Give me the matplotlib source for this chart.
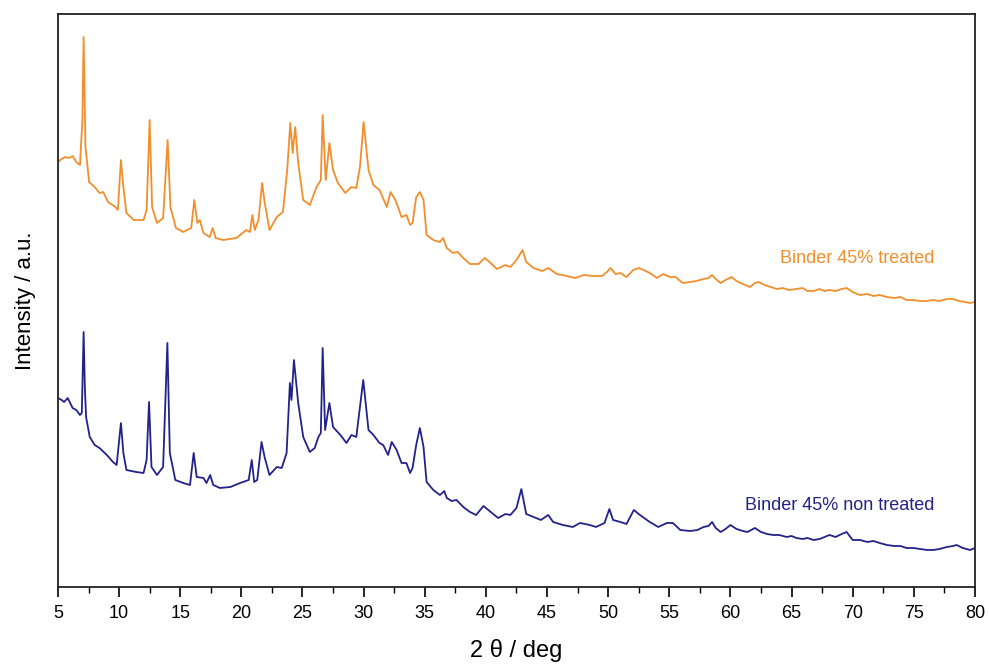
import matplotlib
matplotlib.use('Agg')
import matplotlib.pyplot as plt
from matplotlib.ticker import MultipleLocator

# 2theta positions (deg) and intensities (a.u.)
treated_2theta = [5.0, 5.3, 5.6, 5.9, 6.2, 6.5, 6.8, 7.0, 7.1, 7.25, 7.55, 8.0, 8.4, 8.7, 9.1,
                  9.7, 9.9, 10.15, 10.35, 10.6, 11.2, 12.0, 12.25, 12.5, 12.7, 13.1, 13.6,
                  13.97, 14.2, 14.65, 15.25, 15.9, 16.15, 16.4, 16.6, 16.9, 17.4, 17.65, 17.9,
                  18.5, 19.6, 20.4, 20.7, 20.9, 21.1, 21.4, 21.7, 21.9, 22.3, 22.9, 23.4,
                  23.75, 24.0, 24.2, 24.4, 24.65, 25.06, 25.6, 26.15, 26.5, 26.65, 26.9, 27.2,
                  27.5, 27.9, 28.5, 29.0, 29.4, 29.7, 30.0, 30.4, 30.8, 31.3, 31.9, 32.2,
                  32.6, 33.1, 33.5, 33.8, 34.0, 34.3, 34.6, 34.9, 35.15, 35.7, 36.24, 36.5,
                  36.8, 37.3, 37.7, 38.15, 38.7, 39.4, 39.9, 40.3, 40.9, 41.6, 42.0, 42.5,
                  43.0, 43.3, 43.9, 44.6, 45.1, 45.8, 46.6, 47.3, 48.0, 48.8, 49.5, 49.9,
                  50.2, 50.6, 51.0, 51.5, 52.05, 52.5, 52.9, 53.4, 54.0, 54.5, 55.05, 55.5,
                  56.1, 56.7, 57.2, 57.8, 58.2, 58.5, 58.8, 59.2, 59.6, 60.1, 60.5, 61.0,
                  61.6, 62.0, 62.3, 62.8, 63.3, 63.8, 64.3, 64.8, 65.4, 65.9, 66.3, 66.8,
                  67.3, 67.7, 68.1, 68.6, 69.1, 69.5, 70.0, 70.6, 71.2, 71.7, 72.2, 72.8,
                  73.4, 73.9, 74.4, 75.0, 75.5, 76.0, 76.6, 77.1, 77.7, 78.2, 78.7, 79.2,
                  79.6, 80.0]
treated_int = [425, 428, 430, 429, 431, 425, 422, 467, 550, 440, 405, 400, 394, 395, 385,
               380, 377, 427, 400, 374, 367, 367, 377, 467, 380, 364, 369,
               447, 380, 359, 355, 359, 387, 364, 367, 354, 350, 359, 349,
               347, 349, 357, 355, 372, 357, 367, 404, 385, 357, 370, 375,
               417, 464, 434, 460, 424, 387, 382, 400, 407, 472, 407, 444,
               417, 404, 394, 400, 399, 420, 465, 417, 402, 397, 380, 395,
               387, 370, 372, 362, 364, 390, 395, 387, 352, 347, 345, 349,
               339, 334, 335, 329, 323, 323, 329, 325, 318, 322, 320, 327,
               337, 325, 319, 316, 319, 313, 311, 309, 312, 311, 311, 315,
               319, 313, 314, 310, 317, 319, 317, 314, 309, 313, 310, 310,
               304, 305, 306, 308, 309, 312, 308, 304, 307, 310, 306, 303,
               300, 304, 305, 302, 300, 298, 299, 297, 298, 299, 296, 296,
               298, 296, 297, 296, 298, 299, 295, 292, 293, 291, 292, 290,
               289, 290, 287, 287, 286, 286, 287, 286, 288, 288, 286, 285,
               284, 285]

non_treated_2theta = [5.0, 5.3, 5.5, 5.8, 6.0, 6.2, 6.5, 6.8, 6.95, 7.1, 7.2, 7.3, 7.6, 8.0,
                      8.4, 9.0, 9.5, 9.8, 10.15, 10.35, 10.6, 11.4, 12.0, 12.25, 12.45, 12.65,
                      13.1, 13.6, 13.95, 14.15, 14.6, 15.25, 15.8, 16.1, 16.35, 16.9, 17.15,
                      17.45, 17.7, 18.25, 19.1, 19.9, 20.6, 20.85, 21.05, 21.3, 21.65, 21.9,
                      22.3, 22.9, 23.3, 23.7, 23.97, 24.1, 24.3, 24.65, 25.06, 25.6, 26.0,
                      26.3, 26.5, 26.65, 26.85, 27.2, 27.5, 28.1, 28.6, 29.0, 29.4, 29.97,
                      30.4, 30.8, 31.3, 31.6, 32.0, 32.3, 32.7, 33.1, 33.5, 33.8, 34.0, 34.3,
                      34.6, 34.9, 35.15, 35.7, 36.24, 36.6, 36.8, 37.2, 37.6, 38.15, 38.7,
                      39.2, 39.8, 40.3, 41.0, 41.6, 42.0, 42.5, 42.9, 43.3, 43.9, 44.5, 45.1,
                      45.5, 46.3, 47.1, 47.7, 48.5, 49.0, 49.7, 50.1, 50.4, 51.0, 51.5, 52.1,
                      52.6, 53.4, 54.1, 54.8, 55.3, 55.9, 56.7, 57.3, 57.8, 58.2, 58.5, 58.8,
                      59.2, 59.6, 60.0, 60.5, 61.0, 61.4, 62.0, 62.5, 63.0, 63.5, 64.0, 64.6,
                      65.0, 65.4, 65.9, 66.3, 66.8, 67.3, 67.7, 68.1, 68.6, 69.1, 69.5, 70.0,
                      70.6, 71.2, 71.7, 72.2, 72.8, 73.4, 73.9, 74.4, 75.0, 75.5, 76.1, 76.6,
                      77.1, 77.7, 78.2, 78.5, 79.0, 79.6, 80.0]
non_treated_int = [189, 187, 185, 189, 184, 179, 177, 172, 174, 255, 200, 170, 150, 142,
                   139, 132, 125, 122, 164, 134, 117, 115, 114, 127, 185, 120,
                   112, 120, 244, 134, 107, 104, 102, 134, 110, 109, 104,
                   112, 102, 99, 100, 104, 107, 127, 105, 107, 145, 130,
                   112, 120, 119, 134, 204, 187, 227, 184, 150, 135, 139,
                   150, 154, 239, 157, 184, 160, 152, 144, 152, 150, 207,
                   157, 152, 144, 142, 132, 145, 137, 124, 124, 114, 119, 142,
                   159, 140, 105, 97, 92, 96, 89, 86, 87, 80, 75,
                   72, 81, 76, 69, 73, 72, 79, 98, 73, 70, 67, 72,
                   65, 62, 60, 64, 62, 60, 64, 78, 67, 65, 63, 77,
                   72, 65, 60, 64, 64, 57, 56, 57, 60, 61, 65, 59,
                   55, 58, 62, 58, 56, 55, 59, 55, 53, 52, 52, 50,
                   51, 49, 48, 49, 47, 48, 50, 52, 50, 53, 55, 47,
                   47, 45, 46, 44, 42, 41, 41, 39, 39, 38, 37, 37,
                   38, 40, 41, 42, 39, 37, 39]

labels = ['Binder 45% treated', 'Binder 45% non treated']
colors = ['#F28E2B', '#22228A']

plt.rcParams['font.family'] = ['Liberation Sans', 'DejaVu Sans']

fig = plt.figure(figsize=(9.89, 6.71), dpi=100)
ax = fig.add_axes([0.0586, 0.1252, 0.9272, 0.8539])

ax.plot(treated_2theta, treated_int, color=colors[0], lw=1.3)
ax.plot(non_treated_2theta, non_treated_int, color=colors[1], lw=1.3)

# series labels next to the tails of the curves
ax.text(76.7, 329, labels[0], color=colors[0], fontsize=13, ha='right', va='center')
ax.text(76.7, 81, labels[1], color=colors[1], fontsize=13, ha='right', va='center')

ax.set_xlim(5, 80)
ax.set_ylim(0, 573)
ax.xaxis.set_major_locator(MultipleLocator(5))
ax.xaxis.set_minor_locator(MultipleLocator(2.5))
ax.set_yticks([])
ax.tick_params(axis='x', which='major', direction='out', length=7, width=1.2,
               labelsize=13, pad=6)
ax.tick_params(axis='x', which='minor', direction='out', length=4, width=1.0)

for s in ax.spines.values():
    s.set_linewidth(1.3)
    s.set_color('#222222')

ax.set_xlabel('2 θ / deg', fontsize=17, labelpad=12)
ax.set_ylabel('Intensity / a.u.', fontsize=16, labelpad=16)

fig.savefig('out.png', dpi=100)
plt.close(fig)
